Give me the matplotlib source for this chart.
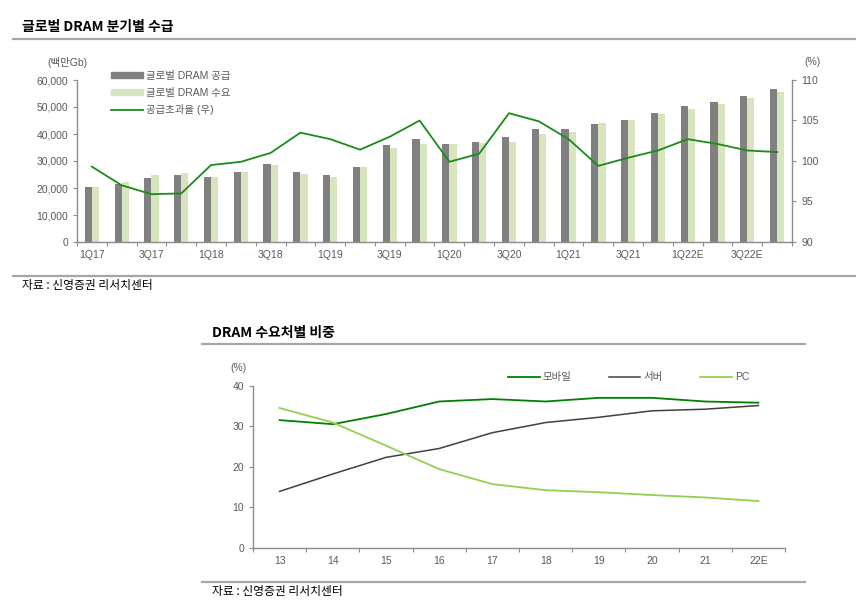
import numpy as np
import matplotlib.pyplot as plt
from matplotlib.lines import Line2D
from matplotlib.patches import Patch

plt.rcParams['font.family'] = ['Liberation Sans', 'Noto Sans CJK KR', 'DejaVu Sans']

# 분기별 수급 데이터
quarters = ['1Q17', '2Q17', '3Q17', '4Q17', '1Q18', '2Q18', '3Q18', '4Q18',
            '1Q19', '2Q19', '3Q19', '4Q19', '1Q20', '2Q20', '3Q20', '4Q20',
            '1Q21', '2Q21', '3Q21', '4Q21', '1Q22E', '2Q22E', '3Q22E', '4Q22E']
supply = [20500, 21500, 23700, 24700, 24200, 26000, 28900, 26000,
          24700, 27900, 35800, 38000, 36200, 37200, 38900, 41700,
          41700, 43600, 45100, 47900, 50500, 51900, 54200, 56500]
demand = [20500, 22300, 24700, 25700, 24200, 26000, 28400, 25200,
          24200, 27900, 34800, 36300, 36200, 36700, 37200, 39900,
          40900, 44100, 45100, 47400, 49100, 51000, 53300, 55500]
excess = [99.3, 97.0, 95.9, 96.0, 99.5, 99.9, 101.0, 103.5,
          102.7, 101.4, 103.0, 105.0, 99.9, 100.9, 105.9, 104.9,
          102.7, 99.4, 100.4, 101.3, 102.7, 102.1, 101.3, 101.1]

# 수요처별 비중
years = ['13', '14', '15', '16', '17', '18', '19', '20', '21', '22E']
mobile = [31.5, 30.5, 33.0, 36.1, 36.7, 36.1, 37.0, 37.0, 36.1, 35.8]
server = [13.9, 18.2, 22.3, 24.5, 28.4, 30.9, 32.2, 33.8, 34.2, 35.1]
pc = [34.5, 30.9, 25.2, 19.4, 15.7, 14.2, 13.7, 13.0, 12.4, 11.5]

W, H = 856, 606
fig = plt.figure(figsize=(W / 100, H / 100), dpi=100)

txt = '#595959'
spine = '#8c8c8c'


def fx(px):
    return px / W


def fy(py):
    return 1 - py / H


def hline(x0, x1, y, lw=1.6):
    fig.add_artist(Line2D([fx(x0), fx(x1)], [fy(y), fy(y)], color='#a6a6a6', lw=lw))


def style(ax):
    for s in ['top']:
        ax.spines[s].set_visible(False)
    for s in ['left', 'right', 'bottom']:
        ax.spines[s].set_color(spine)
        ax.spines[s].set_linewidth(1.0)
    ax.tick_params(colors=spine, labelcolor=txt, labelsize=7.5, length=3, width=0.8)


# ---------- 위 차트 ----------
fig.text(fx(22), fy(27), '글로벌 DRAM 분기별 수급', fontsize=10, fontweight='bold',
         family=['Noto Sans CJK KR'], va='center', ha='left', color='black')
hline(13, 856, 39)

ax = fig.add_axes([fx(77), fy(242), fx(792) - fx(77), (242 - 80) / H])
x = np.arange(len(quarters))
bw = 0.24
ax.bar(x - bw / 2, supply, bw, color='#808080', label='글로벌 DRAM 공급')
ax.bar(x + bw / 2, demand, bw, color='#d7e4bd', label='글로벌 DRAM 수요')
ax.set_xlim(-0.5, len(quarters) - 0.5)
ax.set_ylim(0, 60000)
ax.set_yticks(range(0, 60001, 10000))
ax.set_yticklabels([f'{v:,}' for v in range(0, 60001, 10000)])
ax.set_xticks(np.arange(-0.5, len(quarters), 1))
ax.set_xticklabels([])
ax.set_xticks(x[::2], [quarters[i] for i in x[::2]], minor=True)
ax.tick_params(axis='x', which='minor', length=0, labelsize=7.5, labelcolor=txt, pad=6)
style(ax)
ax.spines['right'].set_visible(False)

ax2 = ax.twinx()
ax2.plot(x, excess, color='#1a8c1a', lw=1.3, label='공급초과율 (우)')
ax2.set_ylim(90, 110)
ax2.set_yticks(range(90, 111, 5))
style(ax2)
ax2.spines['left'].set_visible(False)
ax2.spines['bottom'].set_visible(False)

fig.text(fx(47), fy(62), '(백만Gb)', fontsize=7.5, color=txt, ha='left', va='center')
fig.text(fx(804), fy(62), '(%)', fontsize=7.5, color=txt, ha='left', va='center')

handles = [Patch(color='#808080'), Patch(color='#d7e4bd'),
           Line2D([], [], color='#1a8c1a', lw=1.3)]
labels = ['글로벌 DRAM 공급', '글로벌 DRAM 수요', '공급초과율 (우)']
ax.legend(handles, labels, loc='upper left', bbox_to_anchor=(0.035, 1.115), frameon=False,
          fontsize=7.5, labelcolor=txt, handlelength=3.0, handleheight=0.5,
          handletextpad=0.3, labelspacing=0.65)

hline(13, 856, 275.5)
fig.text(fx(22), fy(285), '자료 : 신영증권 리서치센터', fontsize=8.5, color='black',
         family=['Noto Sans CJK KR'], ha='left', va='center')

# ---------- 아래 차트 ----------
fig.text(fx(212), fy(333), 'DRAM 수요처별 비중', fontsize=10, fontweight='bold',
         family=['Noto Sans CJK KR'], va='center', ha='left', color='black')
hline(202, 805, 344)

bx = fig.add_axes([fx(253), fy(547.7), fx(785) - fx(253), (547.7 - 385.7) / H])
xi = np.arange(len(years))
bx.plot(xi, mobile, color='#008000', lw=1.3, label='모바일')
bx.plot(xi, server, color='#404040', lw=1.1, label='서버')
bx.plot(xi, pc, color='#92d050', lw=1.3, label='PC')
bx.set_xlim(-0.5, len(years) - 0.5)
bx.set_ylim(0, 40)
bx.set_yticks(range(0, 41, 10))
bx.set_xticks(np.arange(-0.5, len(years), 1))
bx.set_xticklabels([])
bx.set_xticks(xi, years, minor=True)
bx.tick_params(axis='x', which='minor', length=0, labelsize=7.5, labelcolor=txt, pad=6)
style(bx)
bx.spines['right'].set_visible(False)
bx.legend(loc='upper right', bbox_to_anchor=(0.95, 1.14), ncol=3, frameon=False,
          fontsize=7.5, labelcolor=txt, handlelength=3.0, handletextpad=0.3,
          columnspacing=3.6)
fig.text(fx(230), fy(368), '(%)', fontsize=7.5, color=txt, ha='left', va='center')

hline(202, 805, 581.7)
fig.text(fx(212), fy(592), '자료 : 신영증권 리서치센터', fontsize=8.5, color='black',
         family=['Noto Sans CJK KR'], ha='left', va='center')

fig.savefig('out.png', dpi=100)
